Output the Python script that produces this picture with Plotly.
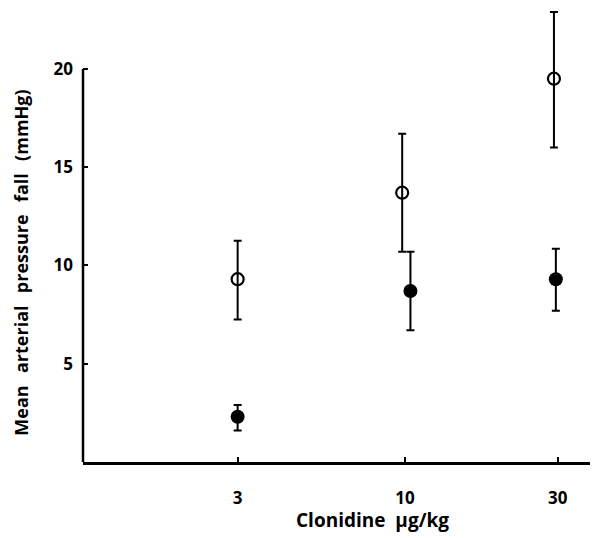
import plotly.graph_objects as go

doses_open = [3, 9.8, 29.2]
fall_open = [9.3, 13.7, 19.5]
err_open_plus = [1.95, 3.0, 3.4]
err_open_minus = [2.05, 3.0, 3.5]

doses_filled = [3, 10.4, 29.6]
fall_filled = [2.3, 8.7, 9.3]
err_filled_plus = [0.6, 2.0, 1.55]
err_filled_minus = [0.7, 2.0, 1.6]

x_ticks = [3, 10, 30]
x_ticktext = ["3", "10", "30"]
y_ticks = [5, 10, 15, 20]
y_ticktext = ["5", "10", "15", "20"]

FONT = "Open Sans"
SP = "\u00a0\u00a0\u2009"

fig = go.Figure()
fig.add_trace(go.Scatter(
    x=doses_open, y=fall_open, mode="markers",
    marker=dict(symbol="circle-open", size=12, color="black", line=dict(width=2.2, color="black")),
    error_y=dict(type="data", symmetric=False, array=err_open_plus, arrayminus=err_open_minus,
                 color="black", thickness=2, width=4),
    showlegend=False, cliponaxis=False,
))
fig.add_trace(go.Scatter(
    x=doses_filled, y=fall_filled, mode="markers",
    marker=dict(symbol="circle", size=14, color="black"),
    error_y=dict(type="data", symmetric=False, array=err_filled_plus, arrayminus=err_filled_minus,
                 color="black", thickness=2, width=4),
    showlegend=False, cliponaxis=False,
))

# partial y-axis line (0 to 20)
fig.add_shape(type="line", xref="paper", x0=0, x1=0, yref="y", y0=0, y1=20,
              line=dict(color="black", width=2.5), layer="above")

fig.add_annotation(text=SP.join(["Mean", "arterial", "pressure", "fall", "(mmHg)"]), textangle=-90,
                   xref="paper", yref="paper", x=-0.124, y=0.4365, xanchor="center", yanchor="middle",
                   showarrow=False, font=dict(family=FONT, size=18, color="black", weight="bold"))
fig.add_annotation(text="Clonidine\u00a0\u00a0\u03bcg/kg",
                   xref="paper", yref="paper", x=0.571, y=-0.1276, xanchor="center", yanchor="middle",
                   showarrow=False, font=dict(family=FONT, size=19, color="black", weight="bold"))

fig.update_layout(
    width=596, height=538,
    margin=dict(l=83, r=6, t=5, b=76, autoexpand=False),
    paper_bgcolor="white", plot_bgcolor="white",
    font=dict(family=FONT, color="black", size=17, weight="bold"),
    xaxis=dict(type="log", range=[-0.006, 1.578], tickvals=x_ticks, ticktext=x_ticktext,
               ticks="inside", ticklen=5, tickwidth=2, tickcolor="black",
               tickfont=dict(family=FONT, size=17, color="black", weight="bold"),
               showline=True, linecolor="black", linewidth=2.5, showgrid=False, zeroline=False,
               ticklabelstandoff=19),
    yaxis=dict(range=[0, 23.25], tickvals=y_ticks, ticktext=y_ticktext,
               ticks="inside", ticklen=5, tickwidth=2, tickcolor="black",
               tickfont=dict(family=FONT, size=17, color="black", weight="bold"),
               showline=False, showgrid=False, zeroline=False, ticklabelstandoff=9),
)

fig.write_html("out.html", config={"displayModeBar": False},
               post_script="document.body.style.margin='0';")
